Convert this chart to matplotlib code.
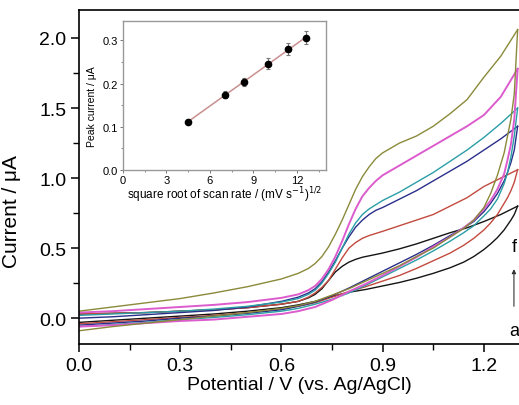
import matplotlib
matplotlib.use("Agg")
import matplotlib.pyplot as plt
import numpy as np

plt.rcParams['font.family'] = ['Liberation Sans', 'DejaVu Sans']

# cyclic voltammograms a-f, potential in V, current in uA
# forward (anodic) sweep
fwd_v = [0.0, 0.1, 0.2, 0.3, 0.4, 0.5, 0.6, 0.65, 0.68, 0.70, 0.72, 0.74, 0.76, 0.78,
         0.80, 0.82, 0.84, 0.86, 0.88, 0.90, 0.95, 1.0, 1.05, 1.1, 1.15, 1.2, 1.25, 1.3]
fwd_i = {
    'a': [0.03, 0.035, 0.04, 0.05, 0.06, 0.075, 0.10, 0.12, 0.145, 0.17, 0.21, 0.27, 0.33, 0.37,
          0.40, 0.42, 0.435, 0.445, 0.455, 0.465, 0.495, 0.53, 0.57, 0.61, 0.645, 0.69, 0.74, 0.80],
    'b': [0.03, 0.035, 0.04, 0.05, 0.06, 0.075, 0.10, 0.12, 0.15, 0.18, 0.22, 0.27, 0.35, 0.43,
          0.50, 0.54, 0.57, 0.59, 0.605, 0.62, 0.66, 0.70, 0.74, 0.80, 0.86, 0.94, 1.00, 1.06],
    'c': [0.0, 0.01, 0.025, 0.04, 0.055, 0.08, 0.12, 0.15, 0.18, 0.21, 0.26, 0.33, 0.41, 0.50,
          0.58, 0.65, 0.70, 0.74, 0.77, 0.79, 0.85, 0.91, 0.98, 1.05, 1.12, 1.20, 1.28, 1.37],
    'd': [0.02, 0.03, 0.04, 0.05, 0.065, 0.085, 0.115, 0.14, 0.17, 0.20, 0.25, 0.32, 0.40, 0.50,
          0.60, 0.68, 0.74, 0.78, 0.81, 0.84, 0.90, 0.97, 1.04, 1.12, 1.20, 1.29, 1.39, 1.50],
    'e': [0.04, 0.05, 0.065, 0.08, 0.095, 0.115, 0.145, 0.17, 0.20, 0.23, 0.28, 0.35, 0.44, 0.55,
          0.67, 0.78, 0.87, 0.93, 0.98, 1.02, 1.09, 1.16, 1.23, 1.30, 1.37, 1.45, 1.58, 1.78],
    'f': [0.05, 0.08, 0.11, 0.14, 0.18, 0.225, 0.28, 0.32, 0.355, 0.39, 0.44, 0.51, 0.60, 0.70,
          0.81, 0.92, 1.01, 1.08, 1.14, 1.18, 1.25, 1.30, 1.37, 1.46, 1.56, 1.72, 1.87, 2.06],
}
# reverse sweep
rev_v = [1.30, 1.29, 1.28, 1.27, 1.26, 1.24, 1.22, 1.20, 1.17, 1.14, 1.10, 1.05, 1.00, 0.95,
         0.90, 0.85, 0.80, 0.75, 0.70, 0.65, 0.60, 0.50, 0.40, 0.30, 0.20, 0.10, 0.0]
rev_i = {
    'a': [0.80, 0.74, 0.70, 0.665, 0.63, 0.575, 0.53, 0.49, 0.44, 0.40, 0.36, 0.32, 0.285, 0.255,
          0.23, 0.205, 0.185, 0.155, 0.12, 0.095, 0.075, 0.05, 0.03, 0.015, 0.0, -0.015, -0.03],
    'b': [1.06, 0.97, 0.91, 0.86, 0.82, 0.74, 0.68, 0.63, 0.57, 0.52, 0.465, 0.41, 0.355, 0.305,
          0.265, 0.225, 0.19, 0.15, 0.11, 0.085, 0.065, 0.04, 0.02, 0.005, -0.01, -0.025, -0.04],
    'c': [1.37, 1.20, 1.11, 1.04, 0.98, 0.89, 0.82, 0.76, 0.69, 0.645, 0.59, 0.52, 0.455, 0.395,
          0.335, 0.275, 0.215, 0.16, 0.115, 0.085, 0.06, 0.035, 0.015, 0.0, -0.02, -0.035, -0.05],
    'd': [1.50, 1.30, 1.15, 1.04, 0.96, 0.85, 0.78, 0.73, 0.66, 0.61, 0.55, 0.48, 0.415, 0.355,
          0.295, 0.235, 0.18, 0.135, 0.10, 0.07, 0.05, 0.025, 0.005, -0.01, -0.03, -0.045, -0.06],
    'e': [1.78, 1.42, 1.24, 1.13, 1.03, 0.92, 0.84, 0.78, 0.70, 0.645, 0.58, 0.51, 0.435, 0.37,
          0.305, 0.245, 0.19, 0.13, 0.08, 0.05, 0.03, 0.01, -0.01, -0.02, -0.035, -0.05, -0.06],
    'f': [2.06, 1.60, 1.42, 1.30, 1.18, 1.02, 0.89, 0.79, 0.70, 0.64, 0.58, 0.50, 0.44, 0.375,
          0.32, 0.265, 0.21, 0.165, 0.12, 0.09, 0.07, 0.04, 0.015, -0.01, -0.035, -0.06, -0.09],
}
colors = {'a': '#151515', 'b': '#c24a3e', 'c': '#2a2f8a', 'd': '#2a9ea6',
          'e': '#dc5ccd', 'f': '#8a8a3a'}

# inset: peak current vs square root of scan rate
sqrt_rate = [4.47, 7.07, 8.37, 10.0, 11.40, 12.65]
peak_i = [0.111, 0.174, 0.204, 0.246, 0.280, 0.306]
peak_err = [0.004, 0.008, 0.010, 0.012, 0.014, 0.015]

fig = plt.figure(figsize=(5.19, 4.06), dpi=100)
ax = fig.add_axes([0.152, 0.150, 0.848, 0.823])

for k in ['a', 'b', 'c', 'd', 'e', 'f']:
    lw = 1.4 if k == 'e' else 1.0
    ax.plot(fwd_v, fwd_i[k], color=colors[k], lw=lw)
    ax.plot(rev_v, rev_i[k], color=colors[k], lw=lw)

ax.set_xlim(0, 1.304)
ax.set_ylim(-0.185, 2.2)
ax.set_xticks([0.0, 0.3, 0.6, 0.9, 1.2])
ax.set_xticks(np.arange(0.15, 1.3, 0.3), minor=True)
ax.set_yticks([0.0, 0.5, 1.0, 1.5, 2.0])
ax.set_yticks([0.25, 0.75, 1.25, 1.75], minor=True)
ax.tick_params(which='major', direction='out', length=6, width=1.1, labelsize=14, pad=3)
ax.tick_params(which='minor', direction='out', length=4, width=1.0)
ax.spines['right'].set_visible(False)
for s in ['left', 'bottom', 'top']:
    ax.spines[s].set_linewidth(1.2)
ax.set_xlabel('Potential / V (vs. Ag/AgCl)', fontsize=14, labelpad=2)
ax.set_ylabel('Current / μA', fontsize=15)
ax.yaxis.set_label_coords(-0.132, 0.40)

ax.annotate('', xy=(1.289, 0.37), xytext=(1.289, 0.065),
            arrowprops=dict(arrowstyle='-|>', color='#333333', lw=0.8, mutation_scale=6))
ax.text(1.289, 0.51, 'f', fontsize=13, ha='center', va='center')
ax.text(1.289, -0.09, 'a', fontsize=13, ha='center', va='center')

ins = fig.add_axes([0.237, 0.579, 0.391, 0.367])
slope, icpt = np.polyfit(sqrt_rate, peak_i, 1)
xs = np.array([sqrt_rate[0], sqrt_rate[-1]])
ins.plot(xs, slope * xs + icpt, color='#c99090', lw=1.1, zorder=1)
ins.errorbar(sqrt_rate, peak_i, yerr=peak_err, fmt='o', color='black', ms=4.5,
             ecolor='#777777', elinewidth=0.8, capsize=1.5, capthick=0.8, zorder=2)
ins.set_xlim(0, 14)
ins.set_ylim(0, 0.345)
ins.set_xticks([0, 3, 6, 9, 12])
ins.set_xticks(np.arange(1.5, 14, 3), minor=True)
ins.set_yticks([0.0, 0.1, 0.2, 0.3])
ins.set_yticks([0.05, 0.15, 0.25], minor=True)
ins.tick_params(which='major', direction='out', length=2.5, width=0.7, labelsize=8,
                pad=1, color='#777777')
ins.tick_params(which='minor', direction='out', length=1.5, width=0.6, color='#777777')
for s in ins.spines.values():
    s.set_color('#999999')
    s.set_linewidth(1.0)
ins.set_xlabel('square root of scan rate / (mV s$^{-1}$)$^{1/2}$', fontsize=8.5, labelpad=0)
ins.set_ylabel('Peak current / μA', fontsize=7.5)
ins.yaxis.set_label_coords(-0.13, 0.43)

fig.savefig('out.png', dpi=100)
